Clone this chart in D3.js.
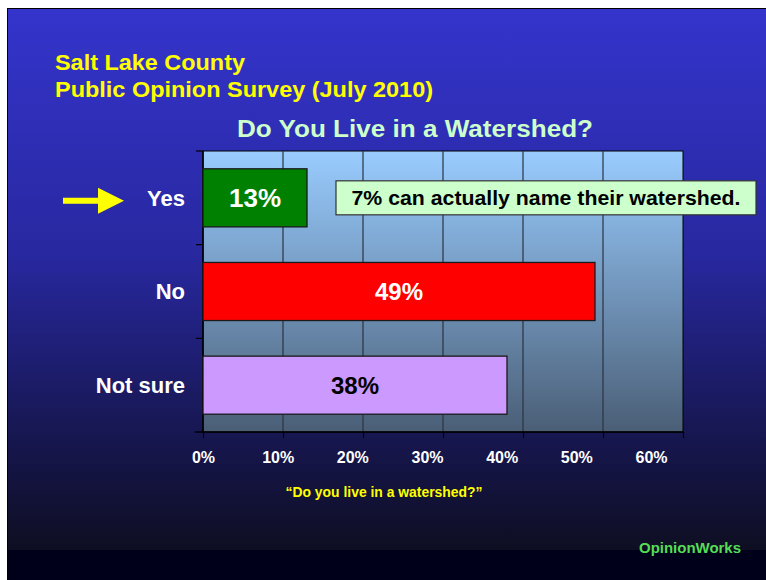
<!DOCTYPE html>
<html>
<head>
<meta charset="utf-8">
<script src="https://cdnjs.cloudflare.com/ajax/libs/d3/7.8.5/d3.min.js"></script>
<style>
  html, body { margin: 0; padding: 0; background: #ffffff; }
  svg { display: block; font-family: "Liberation Sans", Arial, sans-serif; }
</style>
</head>
<body>
<div id="chart"></div>
<script>
// data
var categories = ['Yes', 'No', 'Not sure'];
var values = [13, 49, 38];
var barColors = ['#008000', '#ff0000', '#cc99ff'];
var labelColors = ['#ffffff', '#ffffff', '#000000'];
var xTicks = [0, 10, 20, 30, 40, 50, 60];
var titleLines = ['Salt Lake County', 'Public Opinion Survey (July 2010)'];
var chartTitle = 'Do You Live in a Watershed?';
var note = '7% can actually name their watershed.';
var axisCaption = '\u201cDo you live in a watershed?\u201d';
var credit = 'OpinionWorks';

function getChart(params) {
    var attrs = {
        svgWidth: 766,
        svgHeight: 580,
        marginTop: 151,
        marginLeft: 203,
        plotWidth: 480,
        plotHeight: 281
    };
    Object.keys(attrs).forEach(function (key) {
        if (params && params[key]) attrs[key] = params[key];
    });

    var main = function (selection) {
        selection.each(function () {
            var svg = d3.select(this).append('svg')
                .attr('width', attrs.svgWidth)
                .attr('height', attrs.svgHeight);

            var defs = svg.append('defs');
            var bg = defs.append('linearGradient').attr('id', 'bg')
                .attr('x1', 0).attr('y1', 0).attr('x2', 0).attr('y2', 1);
            bg.append('stop').attr('offset', '0%').attr('stop-color', '#3434cc');
            bg.append('stop').attr('offset', '45%').attr('stop-color', '#2828a0');
            bg.append('stop').attr('offset', '80%').attr('stop-color', '#16164e');
            bg.append('stop').attr('offset', '100%').attr('stop-color', '#0e0e22');

            var pg = defs.append('linearGradient').attr('id', 'plotbg')
                .attr('x1', 0).attr('y1', 0).attr('x2', 0).attr('y2', 1);
            pg.append('stop').attr('offset', '0%').attr('stop-color', '#99ccff');
            pg.append('stop').attr('offset', '100%').attr('stop-color', '#4a5e76');

            // slide background
            svg.append('rect').attr('x', 7).attr('y', 8)
                .attr('width', attrs.svgWidth - 7).attr('height', attrs.svgHeight - 8)
                .attr('fill', '#000000');
            svg.append('rect').attr('x', 8).attr('y', 9)
                .attr('width', attrs.svgWidth - 8).attr('height', 541)
                .attr('fill', 'url(#bg)');
            svg.append('rect').attr('x', 8).attr('y', 550)
                .attr('width', attrs.svgWidth - 8).attr('height', 30)
                .attr('fill', '#00001a');

            // titles
            svg.selectAll('text.title')
                .data(titleLines)
                .enter().append('text')
                .attr('class', 'title')
                .attr('x', 55)
                .attr('y', (d, i) => 70 + i * 27)
                .attr('fill', '#ffff00')
                .attr('font-size', 22)
                .attr('font-weight', 'bold')
                .attr('textLength', (d, i) => i === 0 ? 190 : 378)
                .attr('lengthAdjust', 'spacingAndGlyphs')
                .text(d => d);

            svg.append('text')
                .attr('x', 415).attr('y', 137)
                .attr('text-anchor', 'middle')
                .attr('fill', '#ccffcc')
                .attr('font-size', 24)
                .attr('font-weight', 'bold')
                .attr('textLength', 356)
                .attr('lengthAdjust', 'spacingAndGlyphs')
                .text(chartTitle);

            var chart = svg.append('g')
                .attr('transform', 'translate(' + attrs.marginLeft + ',' + attrs.marginTop + ')');

            var x = d3.scaleLinear().domain([0, 60]).range([0, attrs.plotWidth]);
            // tick labels in the original sit slightly left of their ticks
            var xLabel = d3.scaleLinear().domain([0, 60]).range([0.5, 448.5]);
            var y = d3.scaleBand().domain(categories).range([0, attrs.plotHeight])
                .paddingInner(0.38).paddingOuter(0.19);
            var yEdges = d3.scaleBand().domain(categories).range([0, attrs.plotHeight]);

            chart.append('rect')
                .attr('width', attrs.plotWidth).attr('height', attrs.plotHeight)
                .attr('fill', 'url(#plotbg)')
                .attr('stroke', '#000').attr('stroke-width', 1);

            // gridlines
            chart.selectAll('line.grid')
                .data(xTicks.slice(1, -1))
                .enter().append('line')
                .attr('class', 'grid')
                .attr('x1', d => x(d)).attr('x2', d => x(d))
                .attr('y1', 0).attr('y2', attrs.plotHeight)
                .attr('stroke', '#2a3340').attr('stroke-width', 1.2);

            // x axis
            var xAxis = chart.append('g')
                .attr('transform', 'translate(0,' + attrs.plotHeight + ')')
                .call(d3.axisBottom(x).tickValues(xTicks).tickSize(6).tickFormat(''));
            xAxis.select('.domain').attr('stroke', '#000').attr('stroke-width', 1.5)
                .attr('d', 'M-8,0H' + attrs.plotWidth);
            xAxis.selectAll('.tick line').attr('stroke', '#000').attr('stroke-width', 1.2);

            chart.selectAll('text.xlab')
                .data(xTicks)
                .enter().append('text')
                .attr('class', 'xlab')
                .attr('x', d => xLabel(d))
                .attr('y', attrs.plotHeight + 31)
                .attr('text-anchor', 'middle')
                .attr('fill', '#ffffff')
                .attr('font-size', 16)
                .attr('font-weight', 'bold')
                .text(d => d + '%');

            // y axis line and ticks
            chart.append('line')
                .attr('x1', 0).attr('x2', 0).attr('y1', 0).attr('y2', attrs.plotHeight)
                .attr('stroke', '#000').attr('stroke-width', 1.5);
            chart.selectAll('line.ytick')
                .data(categories)
                .enter().append('line')
                .attr('class', 'ytick')
                .attr('x1', -7).attr('x2', 0)
                .attr('y1', d => yEdges(d)).attr('y2', d => yEdges(d))
                .attr('stroke', '#000').attr('stroke-width', 1.2);

            // bars
            chart.selectAll('rect.bar')
                .data(values)
                .enter().append('rect')
                .attr('class', 'bar')
                .attr('x', 0)
                .attr('y', (d, i) => y(categories[i]))
                .attr('width', d => x(d))
                .attr('height', y.bandwidth())
                .attr('fill', (d, i) => barColors[i])
                .attr('stroke', '#1a1a1a').attr('stroke-width', 1.3);

            chart.selectAll('text.val')
                .data(values)
                .enter().append('text')
                .attr('class', 'val')
                .attr('x', d => x(d) / 2)
                .attr('y', (d, i) => y(categories[i]) + y.bandwidth() / 2)
                .attr('dy', '0.36em')
                .attr('text-anchor', 'middle')
                .attr('fill', (d, i) => labelColors[i])
                .attr('font-size', (d, i) => i === 0 ? 26 : 24)
                .attr('font-weight', 'bold')
                .text(d => d + '%');

            // category labels
            chart.selectAll('text.cat')
                .data(categories)
                .enter().append('text')
                .attr('class', 'cat')
                .attr('x', -18)
                .attr('y', d => y(d) + y.bandwidth() / 2)
                .attr('dy', '0.36em')
                .attr('text-anchor', 'end')
                .attr('fill', '#ffffff')
                .attr('font-size', 22)
                .attr('font-weight', 'bold')
                .text(d => d);

            // annotation box
            var noteY = attrs.marginTop + y('Yes') + y.bandwidth() / 2;
            svg.append('rect')
                .attr('x', 336).attr('y', noteY - 17)
                .attr('width', 420).attr('height', 34)
                .attr('fill', '#ccffcc')
                .attr('stroke', '#333').attr('stroke-width', 1.2);
            svg.append('text')
                .attr('x', 546).attr('y', noteY)
                .attr('dy', '0.36em')
                .attr('text-anchor', 'middle')
                .attr('fill', '#000')
                .attr('font-size', 21)
                .attr('font-weight', 'bold')
                .attr('textLength', 389)
                .attr('lengthAdjust', 'spacingAndGlyphs')
                .text(note);

            // arrow
            var ay = noteY + 3;
            svg.append('path')
                .attr('d', 'M63,' + (ay - 3) + 'H98V' + (ay - 13) + 'L124,' + ay +
                    'L98,' + (ay + 13) + 'V' + (ay + 3) + 'H63Z')
                .attr('fill', '#ffff00');

            // captions
            svg.append('text')
                .attr('x', 384).attr('y', 497)
                .attr('text-anchor', 'middle')
                .attr('fill', '#ffff00')
                .attr('font-size', 14)
                .attr('font-weight', 'bold')
                .attr('textLength', 197)
                .attr('lengthAdjust', 'spacingAndGlyphs')
                .text(axisCaption);

            svg.append('text')
                .attr('x', 741).attr('y', 553)
                .attr('text-anchor', 'end')
                .attr('fill', '#55dd55')
                .attr('font-size', 15)
                .attr('font-weight', 'bold')
                .attr('textLength', 102)
                .attr('lengthAdjust', 'spacingAndGlyphs')
                .text(credit);
        });
    };

    return main;
}

d3.select('#chart').call(getChart());
</script>
</body>
</html>
